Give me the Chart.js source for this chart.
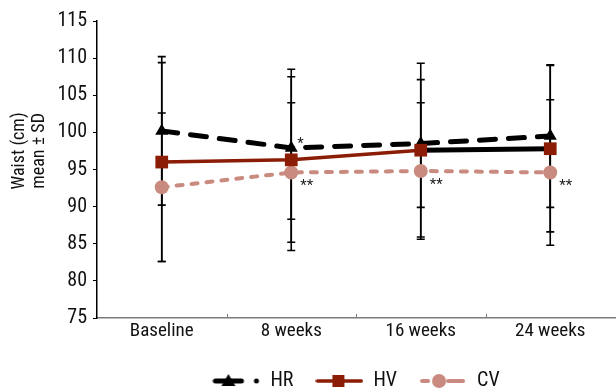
<!DOCTYPE html>
<html>
<head>
    <meta charset="UTF-8">
    <title>Waist</title>
    <script src="https://cdn.jsdelivr.net/npm/chart.js"></script>
    <style>
        body { margin: 0; overflow: hidden; background: #fff; }
    </style>
</head>
<body>
    <canvas id="waistChart" width="624" height="388"></canvas>
    <script>
        var timeLabels = ['Baseline', '8 weeks', '16 weeks', '24 weeks'];
        var hrMean = [100.2, 97.9, 98.5, 99.5];
        var hrSD   = [10.0, 9.6, 8.6, 9.6];
        var hvMean = [96.0, 96.3, 97.6, 97.8];
        var hvSD   = [13.4, 12.2, 11.7, 11.2];
        var cvMean = [92.6, 94.6, 94.8, 94.6];
        var cvSD   = [10.0, 9.4, 9.2, 9.8];
        // significance marks: dataset index, point index, text
        var sigMarks = [
            [0, 1, '*'],
            [2, 1, '**'],
            [2, 2, '**'],
            [2, 3, '**']
        ];

        var FONT = "'Roboto Condensed', 'DejaVu Sans Condensed', sans-serif";
        var RED = '#8b1d06';
        var ROSE = '#c98b7f';

        // legend symbols (line + marker)
        function legendIcon(kind) {
            var c = document.createElement('canvas');
            c.width = 48; c.height = 16;
            var g = c.getContext('2d');
            g.lineCap = 'round';
            if (kind === 'HR') {
                g.strokeStyle = '#000'; g.lineWidth = 5;
                g.beginPath(); g.moveTo(3, 8); g.lineTo(29, 8); g.stroke();
                g.fillStyle = '#000';
                g.beginPath(); g.moveTo(16, 1); g.lineTo(23, 13); g.lineTo(9, 13); g.closePath(); g.fill();
                g.beginPath(); g.arc(44, 8, 2.5, 0, Math.PI * 2); g.fill();
            } else if (kind === 'HV') {
                g.strokeStyle = RED; g.lineWidth = 3.5;
                g.beginPath(); g.moveTo(2, 8); g.lineTo(46, 8); g.stroke();
                g.fillStyle = RED; g.fillRect(17, 2, 12, 12);
            } else {
                g.strokeStyle = ROSE; g.lineWidth = 4;
                g.beginPath(); g.moveTo(3, 8); g.lineTo(9, 8); g.stroke();
                g.beginPath(); g.moveTo(29, 8); g.lineTo(44, 8); g.stroke();
                g.fillStyle = ROSE;
                g.beginPath(); g.arc(20, 8, 7, 0, Math.PI * 2); g.fill();
            }
            return c;
        }
        var icons = { HR: legendIcon('HR'), HV: legendIcon('HV'), CV: legendIcon('CV') };

        var errorBars = {
            id: 'errorBars',
            beforeDatasetsDraw: function(chart) {
                var ctx = chart.ctx;
                var xs = chart.scales.x, ys = chart.scales.y;
                ctx.save();
                ctx.strokeStyle = '#000';
                ctx.lineWidth = 1.6;
                chart.data.datasets.forEach(function(ds) {
                    ds.data.forEach(function(v, i) {
                        var x = xs.getPixelForValue(i);
                        var yt = ys.getPixelForValue(v + ds.sd[i]);
                        var yb = ys.getPixelForValue(v - ds.sd[i]);
                        ctx.beginPath();
                        ctx.moveTo(x, yt); ctx.lineTo(x, yb);
                        ctx.moveTo(x - 4, yt); ctx.lineTo(x + 4, yt);
                        ctx.moveTo(x - 4, yb); ctx.lineTo(x + 4, yb);
                        ctx.stroke();
                    });
                });
                ctx.restore();
            },
            afterDatasetsDraw: function(chart) {
                var ctx = chart.ctx;
                var xs = chart.scales.x, ys = chart.scales.y;
                ctx.save();
                ctx.fillStyle = '#222';
                ctx.font = '15px ' + FONT;
                ctx.textAlign = 'left';
                ctx.textBaseline = 'middle';
                sigMarks.forEach(function(m) {
                    var ds = chart.data.datasets[m[0]];
                    var x = xs.getPixelForValue(m[1]);
                    var y = ys.getPixelForValue(ds.data[m[1]]);
                    if (m[2] === '*') ctx.fillText(m[2], x + 6, y - 4);
                    else ctx.fillText(m[2], x + 9, y + 14);
                });
                // inward category ticks on the x axis
                ctx.strokeStyle = '#777';
                ctx.lineWidth = 1;
                for (var i = 1; i < chart.data.labels.length; i++) {
                    var bx = Math.round((xs.getPixelForValue(i - 1) + xs.getPixelForValue(i)) / 2) + 0.5;
                    ctx.beginPath();
                    ctx.moveTo(bx, chart.chartArea.bottom);
                    ctx.lineTo(bx, chart.chartArea.bottom - 4);
                    ctx.stroke();
                }
                ctx.restore();
            }
        };

        var ctx = document.getElementById('waistChart').getContext('2d');
        var waistChart = new Chart(ctx, {
            type: 'line',
            data: {
                labels: timeLabels,
                datasets: [{
                    label: 'HR',
                    data: hrMean,
                    sd: hrSD,
                    borderColor: '#000',
                    backgroundColor: '#000',
                    borderWidth: 5,
                    borderDash: [16, 13],
                    borderCapStyle: 'round',
                    pointStyle: 'triangle',
                    pointRadius: 7.5,
                    pointBorderWidth: 0,
                    order: 1,
                    tension: 0
                }, {
                    label: 'HV',
                    data: hvMean,
                    sd: hvSD,
                    borderColor: RED,
                    backgroundColor: RED,
                    borderWidth: 3.5,
                    segment: {
                        borderColor: function(c) { return c.p0DataIndex === 2 ? '#000' : RED; },
                        borderWidth: function(c) { return c.p0DataIndex === 2 ? 5 : 3.5; }
                    },
                    pointStyle: 'rect',
                    pointRadius: 9,
                    pointBorderWidth: 0,
                    order: 0,
                    tension: 0
                }, {
                    label: 'CV',
                    data: cvMean,
                    sd: cvSD,
                    borderColor: ROSE,
                    backgroundColor: ROSE,
                    borderWidth: 4,
                    borderDash: [6, 9],
                    borderCapStyle: 'round',
                    pointStyle: 'circle',
                    pointRadius: 7,
                    pointBorderWidth: 0,
                    order: 2,
                    tension: 0
                }]
            },
            options: {
                responsive: false,
                animation: false,
                layout: { padding: { top: 21, right: 1, left: 0, bottom: -13 } },
                plugins: {
                    tooltip: { enabled: false },
                    legend: {
                        position: 'bottom',
                        fullSize: false,
                        labels: {
                            usePointStyle: true,
                            pointStyleWidth: 48,
                            padding: 22,
                            color: '#111',
                            font: { family: FONT, size: 20 },
                            generateLabels: function(chart) {
                                return chart.data.datasets.map(function(ds, i) {
                                    return {
                                        text: ds.label,
                                        pointStyle: icons[ds.label],
                                        fillStyle: ds.borderColor,
                                        strokeStyle: ds.borderColor,
                                        lineWidth: 0,
                                        hidden: false,
                                        datasetIndex: i,
                                        fontColor: '#111'
                                    };
                                });
                            }
                        }
                    }
                },
                scales: {
                    x: {
                        offset: true,
                        grid: { display: false, drawTicks: false },
                        border: { color: '#7a7a7a', width: 1.5 },
                        ticks: { color: '#111', padding: 2, font: { family: FONT, size: 19 } },
                        afterFit: function(s) { s.height = 31; }
                    },
                    y: {
                        min: 75, max: 115,
                        ticks: { stepSize: 5, color: '#111', padding: 6, font: { family: FONT, size: 20 } },
                        grid: { drawOnChartArea: false, tickLength: 4, color: '#000', lineWidth: 1 },
                        border: { color: '#000', width: 1.5 },
                        title: {
                            display: true,
                            text: ['         Waist (cm)', '         mean \u00b1 SD'],
                            color: '#111',
                            padding: { top: 10, bottom: 0 },
                            font: { family: FONT, size: 18, lineHeight: 1.1 }
                        },
                        afterFit: function(s) { s.width = 97; }
                    }
                }
            },
            plugins: [errorBars]
        });
    </script>
</body>
</html>
